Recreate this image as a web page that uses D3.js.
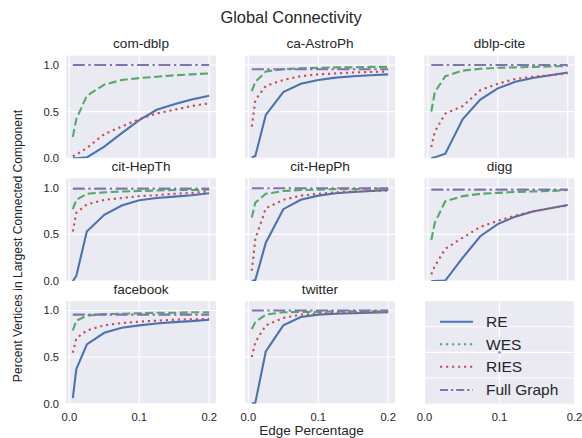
<!DOCTYPE html>
<html>
<head>
<meta charset="utf-8">
<script src="https://cdn.jsdelivr.net/npm/d3@7/dist/d3.min.js"></script>
<style>
  html, body { margin: 0; padding: 0; background: #ffffff; }
  svg { display: block; font-family: "Liberation Sans", Arial, sans-serif; }
</style>
</head>
<body>
<svg id="chart" width="582" height="438"></svg>
<script>
// ---------------- data ----------------
const title = "Global Connectivity";
const xLabel = "Edge Percentage";
const yLabel = "Percent Vertices in Largest Connected Component";
const edgePct = [0.005, 0.01, 0.025, 0.05, 0.075, 0.1, 0.125, 0.15, 0.175, 0.2];
const datasets = ["com-dblp", "ca-AstroPh", "dblp-cite", "cit-HepTh", "cit-HepPh", "digg", "facebook", "twitter"];
const seriesNames = ["RE", "WES", "RIES", "Full Graph"];

const reValues = [
  [0.0, 0.0, 0.01, 0.125, 0.27, 0.41, 0.52, 0.58, 0.63, 0.67],      // com-dblp
  [0.01, 0.025, 0.465, 0.71, 0.80, 0.84, 0.865, 0.88, 0.89, 0.90],  // ca-AstroPh
  [0.0, 0.01, 0.05, 0.42, 0.63, 0.75, 0.82, 0.86, 0.89, 0.92],      // dblp-cite
  [0.0, 0.055, 0.53, 0.71, 0.81, 0.865, 0.89, 0.905, 0.92, 0.94],   // cit-HepTh
  [0.0, 0.01, 0.41, 0.77, 0.87, 0.915, 0.94, 0.955, 0.965, 0.975], // cit-HepPh
  [0.0, 0.0, 0.005, 0.25, 0.48, 0.61, 0.69, 0.745, 0.78, 0.815],   // digg
  [0.06, 0.37, 0.635, 0.76, 0.815, 0.84, 0.86, 0.875, 0.885, 0.90], // facebook
  [0.0, 0.01, 0.56, 0.84, 0.93, 0.955, 0.965, 0.97, 0.975, 0.98]   // twitter
];
const wesValues = [
  [0.23, 0.42, 0.67, 0.79, 0.84, 0.86, 0.875, 0.89, 0.90, 0.91],
  [0.72, 0.82, 0.93, 0.955, 0.965, 0.97, 0.975, 0.975, 0.98, 0.98],
  [0.50, 0.71, 0.88, 0.94, 0.96, 0.97, 0.975, 0.98, 0.985, 0.99],
  [0.77, 0.87, 0.935, 0.95, 0.96, 0.965, 0.97, 0.975, 0.975, 0.98],
  [0.68, 0.84, 0.935, 0.965, 0.975, 0.98, 0.985, 0.985, 0.99, 0.99],
  [0.44, 0.625, 0.855, 0.91, 0.935, 0.945, 0.955, 0.96, 0.965, 0.975],
  [0.785, 0.89, 0.945, 0.96, 0.965, 0.97, 0.975, 0.975, 0.98, 0.98],
  [0.80, 0.875, 0.955, 0.98, 0.985, 0.985, 0.99, 0.99, 0.99, 0.99]
];
const riesValues = [
  [0.02, 0.04, 0.11, 0.26, 0.34, 0.42, 0.48, 0.52, 0.56, 0.59],
  [0.34, 0.625, 0.775, 0.84, 0.88, 0.90, 0.91, 0.92, 0.925, 0.93],
  [0.12, 0.285, 0.48, 0.56, 0.73, 0.80, 0.85, 0.875, 0.89, 0.91],
  [0.53, 0.73, 0.82, 0.87, 0.89, 0.91, 0.92, 0.935, 0.945, 0.96],
  [0.11, 0.45, 0.78, 0.87, 0.915, 0.935, 0.95, 0.96, 0.965, 0.97],
  [0.07, 0.16, 0.345, 0.465, 0.58, 0.645, 0.70, 0.745, 0.78, 0.81],
  [0.545, 0.70, 0.785, 0.84, 0.865, 0.88, 0.89, 0.90, 0.905, 0.91],
  [0.50, 0.66, 0.84, 0.92, 0.955, 0.965, 0.975, 0.98, 0.985, 0.985]
];
const fullGraphValues = [1.0, 0.955, 1.0, 0.99, 0.995, 0.98, 0.955, 1.0];

const xTicks = [0.0, 0.1, 0.2];
const yTicks = [0.0, 0.5, 1.0];
const tickFmt = d3.format(".1f");

// ---------------- style ----------------
const colors = { "RE": "#4C72B0", "WES": "#55A868", "RIES": "#C44E52", "Full Graph": "#8172B2" };
const dashes = { "RE": null, "WES": "8,3.5", "RIES": "2.2,3.8", "Full Graph": "12,3.5,2.4,3.5" };
const legendDashes = { "RE": null, "WES": "2.2,3.8", "RIES": "2.2,3.8", "Full Graph": "8,3,2.2,3" };
const lw = 2.1;
const textColor = "#262626";

const colLeft = [66, 245, 424.5];
const rowTop = [55.7, 178.4, 301.1];
const W = 150, H = 102.6;

const svg = d3.select("#chart");
const defs = svg.append("defs");
defs.append("clipPath").attr("id", "clipAx")
  .append("rect").attr("x", 0).attr("y", 0).attr("width", W).attr("height", H);

const x = d3.scaleLinear().domain([-0.00475, 0.20975]).range([0, W]);
const y = d3.scaleLinear().domain([0, 1.1]).range([H, 0]);

// suptitle
svg.append("text").attr("x", 291).attr("y", 23).attr("text-anchor", "middle")
  .attr("font-size", 16.4).attr("fill", textColor).text(title);

datasets.forEach((name, i) => {
  const r = Math.floor(i / 3), c = i % 3;
  const g = svg.append("g").attr("transform", `translate(${colLeft[c]},${rowTop[r]})`);
  g.append("rect").attr("width", W).attr("height", H).attr("fill", "#EAEAF2");
  // grid
  g.selectAll(".gx").data(xTicks).enter().append("line")
    .attr("x1", d => x(d)).attr("x2", d => x(d)).attr("y1", 0).attr("y2", H)
    .attr("stroke", "#fff").attr("stroke-width", 1.1);
  g.selectAll(".gy").data(yTicks).enter().append("line")
    .attr("y1", d => y(d)).attr("y2", d => y(d)).attr("x1", 0).attr("x2", W)
    .attr("stroke", "#fff").attr("stroke-width", 1.1);
  // title
  g.append("text").attr("x", W / 2).attr("y", -7.5).attr("text-anchor", "middle")
    .attr("font-size", 13.6).attr("fill", textColor).text(name);
  // y tick labels (first column)
  if (c === 0) {
    g.selectAll(".yt").data(yTicks).enter().append("text")
      .attr("x", -7).attr("y", d => y(d)).attr("dy", "0.35em").attr("text-anchor", "end")
      .attr("font-size", 11.2).attr("fill", textColor).text(d => tickFmt(d));
  }
  // x tick labels (bottom row)
  if (r === 2) {
    g.selectAll(".xt").data(xTicks).enter().append("text")
      .attr("x", d => x(d)).attr("y", H + 17).attr("text-anchor", "middle")
      .attr("font-size", 11.2).attr("fill", textColor).text(d => tickFmt(d));
  }
  const lines = g.append("g").attr("clip-path", "url(#clipAx)");
  const line = d3.line().x((d, k) => x(edgePct[k])).y(d => y(d));
  const seriesData = {
    "RE": reValues[i],
    "WES": wesValues[i],
    "RIES": riesValues[i],
    "Full Graph": edgePct.map(() => fullGraphValues[i])
  };
  seriesNames.forEach(s => {
    lines.append("path").attr("d", line(seriesData[s]))
      .attr("fill", "none").attr("stroke", colors[s]).attr("stroke-width", lw)
      .attr("stroke-dasharray", dashes[s]);
  });
});

// legend axes
const lg = svg.append("g").attr("transform", `translate(${colLeft[2]},${rowTop[2]})`);
const lx = d3.scaleLinear().domain([0, 0.2]).range([0, W]);
const ly = d3.scaleLinear().domain([0, 4]).range([H, 0]);
lg.append("rect").attr("width", W).attr("height", H).attr("fill", "#EAEAF2");
lg.selectAll(".gx").data(xTicks).enter().append("line")
  .attr("x1", d => lx(d)).attr("x2", d => lx(d)).attr("y1", 0).attr("y2", H)
  .attr("stroke", "#fff").attr("stroke-width", 1.1);
lg.selectAll(".gy").data([1, 2, 3]).enter().append("line")
  .attr("y1", d => ly(d)).attr("y2", d => ly(d)).attr("x1", 0).attr("x2", W)
  .attr("stroke", "#fff").attr("stroke-width", 1.1);
lg.selectAll(".xt").data(xTicks).enter().append("text")
  .attr("x", d => lx(d)).attr("y", H + 17).attr("text-anchor", "middle")
  .attr("font-size", 11.2).attr("fill", textColor).text(d => tickFmt(d));
lg.append("circle").attr("cx", lx(0.1)).attr("cy", ly(2)).attr("r", 1.2).attr("fill", colors["Full Graph"]);

const legendY = [20.6, 43.2, 65.6, 88.9];
seriesNames.forEach((s, k) => {
  lg.append("line").attr("x1", 15.5).attr("x2", 48.5).attr("y1", legendY[k]).attr("y2", legendY[k])
    .attr("stroke", colors[s]).attr("stroke-width", lw).attr("stroke-dasharray", legendDashes[s]);
  lg.append("text").attr("x", 61.5).attr("y", legendY[k]).attr("dy", "0.35em")
    .attr("font-size", 15.5).attr("fill", textColor).text(s);
});

// axis labels
svg.append("text").attr("x", 311.5).attr("y", 435).attr("text-anchor", "middle")
  .attr("font-size", 13.5).attr("fill", textColor).text(xLabel);
svg.append("text").attr("transform", "translate(21.5,246) rotate(-90)").attr("text-anchor", "middle")
  .attr("font-size", 12.1).attr("fill", textColor).text(yLabel);
</script>
</body>
</html>
